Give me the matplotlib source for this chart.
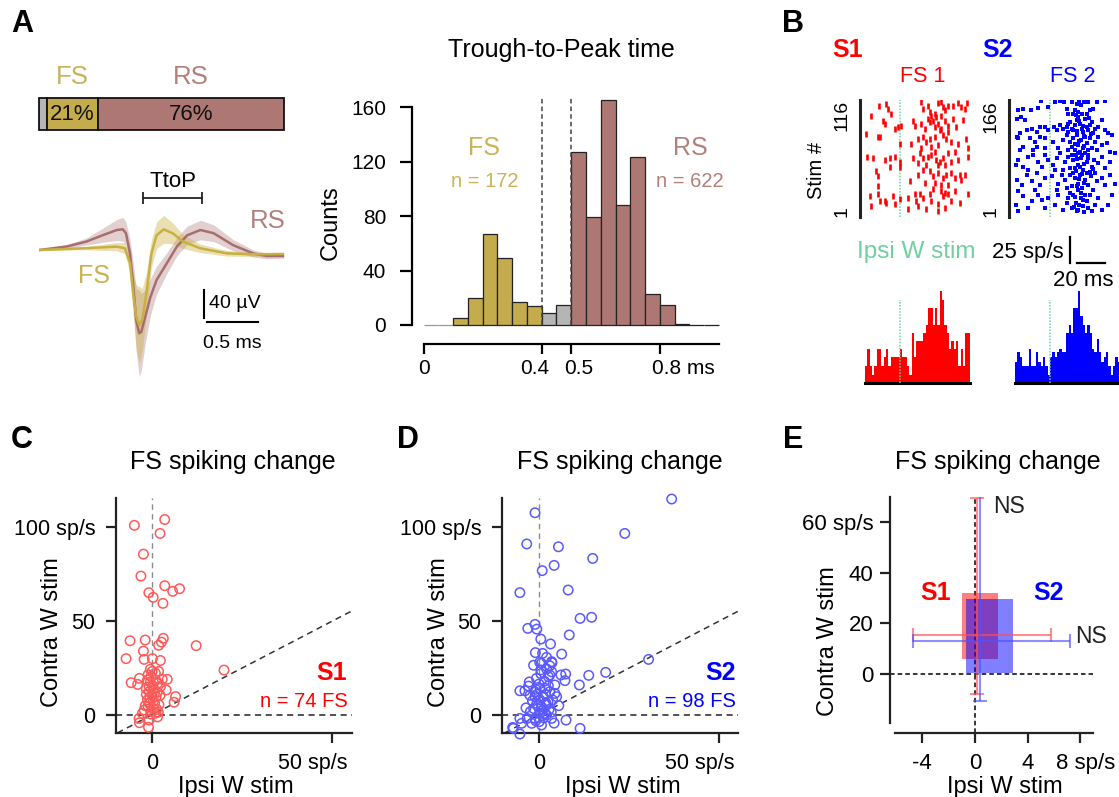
import numpy as np
import matplotlib
matplotlib.use("Agg")
import matplotlib.pyplot as plt
from matplotlib.transforms import ScaledTranslation

plt.rcParams['font.family'] = ['Liberation Sans', 'DejaVu Sans']

# ===================== DATA =====================
# A: population fractions (unclassified, FS, RS)
unit_pct = [3, 21, 76]
unit_labels = ['', '21%', '76%']

# A: mean waveforms (ms, uV) with spread
rs_t = [0, 0.27, 0.46, 0.62, 0.76, 0.82, 0.85, 0.89, 0.92, 0.95, 0.98, 1.00, 1.04, 1.09,
        1.15, 1.25, 1.35, 1.45, 1.58, 1.71, 1.90, 2.10, 2.23, 2.40]
rs_v = [0, 5, 12, 21, 28.6, 29.5, 24, -5, -48, -100, -119, -117, -95, -67,
        -43, -19, 5, 21, 28.6, 24, 7, -5, -8.6, -8.6]
rs_sd = [1, 3, 5, 10, 15, 17, 16, 20, 30, 45, 62, 55, 38, 26,
         20, 15, 13, 13, 14, 12, 8, 5, 4, 3]
fs_t = [0, 0.43, 0.76, 0.84, 0.89, 0.92, 0.95, 0.98, 1.01, 1.05, 1.10, 1.15, 1.22, 1.31,
        1.41, 1.58, 1.84, 2.10, 2.40]
fs_v = [0, 2.4, 4.8, 2.4, -19, -62, -95, -107, -100, -62, -5, 21, 29.5, 23.8,
        12, 2.4, -4.8, -6.2, -5.7]
fs_sd = [1, 2, 6, 8, 15, 30, 45, 55, 45, 30, 20, 19, 20, 15, 10, 6, 4, 3, 2]

# A: trough-to-peak histogram (bin left edges in ms, counts, class)
ttp_bin_left = [0.00, 0.05, 0.10, 0.15, 0.20, 0.25, 0.30, 0.35, 0.40, 0.45,
                0.50, 0.55, 0.60, 0.65, 0.70, 0.75, 0.80, 0.85, 0.90, 0.95]
ttp_counts = [0, 0, 5, 20, 67, 49, 17, 14, 9, 15,
              127, 79, 165, 88, 123, 23, 15, 1, 0, 0]
ttp_class = ['gray', 'gray', 'FS', 'FS', 'FS', 'FS', 'FS', 'FS', 'gray', 'gray',
             'RS', 'RS', 'RS', 'RS', 'RS', 'RS', 'RS', 'RS', 'RS', 'RS']
ttp_thresholds = [0.4, 0.5]
ttp_xticks = [0, 0.4, 0.5, 0.8]
ttp_xticklabels = ['0', '0.4', '0.5', '0.8 ms']
ttp_yticks = [0, 40, 80, 120, 160]

# B: rasters (time ms, trial #)
s1_spikes = [
    (-15.2, 111), (-9.8, 113), (-8.6, 108), (-6.2, 103), (-21, 101), (15.2, 115), (16.4, 108), (20, 111),
    (21.2, 105), (27.1, 114), (29, 115), (30.7, 110), (32.4, 107), (34.3, 111), (37.8, 111), (41.4, 114),
    (43.3, 110), (46.2, 108), (48.1, 114), (24.8, 103), (22.4, 101), (26, 100), (29.5, 101),
    (-12.1, 96), (-11, 93), (-3.8, 88), (-1.4, 90), (1, 91), (9.3, 96), (10.5, 91), (15.2, 93), (20, 98),
    (21.2, 95), (23.6, 96), (27.1, 93), (31.9, 96), (34.3, 91), (37.8, 98), (40.2, 90), (45, 97),
    (29.5, 88), (24.8, 90), (17.6, 88),
    (-24, 83), (-15.7, 80), (-14.5, 80), (-0.2, 73), (8.1, 73), (12.9, 78), (16.4, 80), (18.8, 75),
    (21.2, 78), (24.8, 80), (27.1, 72), (30.7, 82), (33.1, 78), (36.7, 75), (41.4, 73), (47.4, 78),
    (48.6, 69), (15.2, 69), (22.4, 70), (28.3, 87), (34.3, 85),
    (-23.3, 60), (-19.3, 59), (-11, 57), (-7.4, 59), (-3.8, 60), (-0.2, 55), (9.3, 59), (14, 64),
    (16.4, 59), (20, 60), (22.4, 62), (26, 57), (28.3, 55), (30.7, 59), (34.3, 64), (39, 65),
    (41.4, 57), (48.6, 60), (24.8, 65), (27.1, 52), (18.8, 52), (12.9, 54), (31.9, 52), (36.7, 55),
    (-16.9, 46), (-15.7, 41), (-7.4, 50), (-0.2, 50), (6.9, 36), (12.9, 42), (16.4, 47), (21.2, 46),
    (23.6, 41), (27.1, 44), (30.7, 39), (33.1, 42), (36.7, 44), (39, 39), (42.6, 42), (46.2, 42),
    (43.8, 37), (24.8, 34), (17.6, 34), (34.3, 32), (29, 32), (-15.7, 31),
    (-21.7, 21), (-20.5, 11), (-15.7, 23), (-14.5, 16), (-11, 16), (-5, 21), (-3.8, 13), (-0.2, 18),
    (5.7, 19), (5.7, 8), (11.7, 16), (14, 23), (16.4, 19), (18.8, 8), (21.2, 23), (23.6, 28),
    (27.1, 13), (29.5, 26), (30.7, 21), (32.4, 24), (34.3, 23), (36.7, 16), (39, 26), (42.6, 14),
    (48.6, 23), (27.1, 6), (22.4, 16), (12.9, 11), (10.5, 23), (31.9, 9), (-9.8, 14),
]
s2_spikes = [
    (-22.6, 152), (-19, 154), (-13.5, 153), (-8.3, 155), (-6.4, 165), (-1.6, 157), (3.6, 164), (7.2, 165),
    (10.3, 163), (11.9, 154), (15.5, 164), (17.9, 152), (19.1, 161), (20.8, 165), (22.2, 159), (24.6, 164),
    (26.9, 163), (28.6, 152), (31, 154), (33.4, 164), (39.3, 165), (26.2, 147), (16.7, 147), (13.1, 147),
    (20.3, 150), (22.7, 147), (-23.8, 140), (-17.8, 138), (-20.7, 142),
    (-13.1, 126), (-9.5, 121), (-7.1, 128), (-3.5, 128), (3.1, 128), (4.8, 124), (11.9, 128), (14.3, 135),
    (15.5, 126), (17.9, 131), (19.1, 138), (21.5, 133), (22.7, 126), (25, 140), (26.2, 128), (28.6, 131),
    (29.8, 135), (32.2, 126), (34.6, 128), (36.9, 138), (39.3, 124), (41.7, 119), (44.1, 117), (13.1, 121),
    (16.7, 124), (9.6, 126), (7.2, 131), (-1.1, 124), (-16.6, 124), (-21.4, 119), (-23.8, 114), (20.3, 142),
    (23.9, 121), (27.4, 124), (31, 119),
    (-22.6, 112), (-19, 100), (-14.2, 112), (-10.7, 107), (-7.1, 114), (-3.5, 112), (2.4, 107), (6, 98),
    (9.6, 110), (11.9, 117), (14.3, 107), (16.7, 112), (19.1, 117), (20.3, 102), (22.2, 110), (23.9, 98),
    (26.2, 105), (28.6, 112), (30.3, 98), (32.2, 107), (34.6, 114), (36.9, 102), (40.5, 105), (42.9, 93),
    (15.5, 100), (17.9, 95), (25, 114), (27.4, 95), (33.4, 95), (13.1, 95), (-3.5, 98), (-11.9, 95),
    (-21.4, 95), (-9.5, 100),
    (-22.6, 81), (-19, 72), (-15.4, 86), (-11.9, 88), (-8.3, 79), (-5.9, 72), (-1.1, 81), (2.4, 74),
    (4.8, 84), (7.2, 91), (10.8, 79), (13.1, 86), (14.3, 70), (16.7, 81), (18.4, 88), (20.3, 74),
    (22.2, 84), (23.9, 67), (26.2, 79), (27.4, 88), (29.8, 72), (31.7, 81), (34.6, 77), (36.9, 86),
    (39.3, 70), (42.9, 79), (46.5, 91), (17.9, 70), (25, 91), (28.6, 65), (9.6, 67), (3.6, 67),
    (-15.4, 67), (-24.5, 74), (-3.5, 88), (21.5, 93),
    (-23.8, 53), (-20.2, 46), (-16.6, 60), (-13.1, 51), (-9.5, 63), (-7.1, 46), (-3.5, 56), (1.2, 58),
    (6, 48), (8.4, 60), (10.8, 53), (14.3, 60), (15.5, 44), (17.9, 56), (19.8, 48), (21.5, 60),
    (23.1, 41), (25, 53), (27.4, 46), (29.3, 58), (31, 39), (33.4, 51), (36.9, 56), (39.3, 46),
    (42.9, 60), (46.5, 48), (16.7, 63), (26.2, 63), (20.3, 39), (11.9, 41), (4.8, 39), (-10.7, 39),
    (-22.6, 37), (32.2, 63),
    (-24.5, 18), (-19, 30), (-13.1, 23), (-8.3, 32), (-3.5, 13), (-1.1, 27), (3.6, 18), (6, 32),
    (9.6, 11), (13.1, 27), (15.5, 13), (16.7, 32), (18.4, 20), (20.3, 11), (22.2, 27), (23.9, 16),
    (26.2, 23), (28.6, 32), (30.3, 9), (32.2, 18), (34.6, 27), (36.9, 11), (41.7, 18), (44.1, 32),
    (14.3, 34), (19.1, 9), (25, 32), (27.4, 13), (11.9, 20), (-5.9, 25), (-15.4, 13), (-22.6, 9),
    (18.5, 145), (21, 137), (23.5, 129), (19.5, 123), (24, 116), (21, 108), (18, 104), (24.5, 101),
    (20, 92), (22.8, 89), (19, 83), (24.3, 76), (21.3, 71), (18.8, 66), (23, 62), (20.8, 55),
    (24, 49), (19.3, 45), (22.5, 35), (18.1, 29), (23.6, 24), (20.9, 17), (17.2, 14), (24.6, 7),
    (27.9, 141), (12.6, 133), (29, 118), (16, 89), (27, 84), (30.8, 69),
]
s1_ntrials = 116
s2_ntrials = 166

# B: PSTHs (sp/s), 45 bins spanning -25..50 ms
psth_t_start, psth_t_end = -25, 50
s1_psth = [16, 33, 16, 8, 16, 33, 33, 16, 25, 33, 16, 25, 25, 25, 25, 33, 25, 25, 16, 8,
           48, 25, 40, 40, 40, 48, 56, 72, 72, 56, 72, 56, 88, 80, 56, 48, 33, 40, 33, 40,
           16, 33, 16, 48, 48]
s2_psth = [20, 30, 25, 16, 16, 16, 33, 16, 16, 30, 20, 16, 25, 16, 8, 25, 30, 25, 30, 33,
           30, 30, 48, 56, 48, 72, 72, 88, 64, 56, 48, 56, 48, 33, 30, 42, 30, 20, 25, 30,
           16, 8, 16, 25, 20]

# C: S1 FS units (ipsi change, contra change) sp/s
s1_fs = [
    (-4.8, 100.9), (3.6, 104), (2.3, 96.6), (-2.3, 85.6), (-3.0, 73.9), (3.6, 68.8), (5.8, 65.8),
    (7.7, 67.2), (-0.8, 65.1), (0.4, 62.6), (3.1, 59.4),
    (-6.0, 39.5), (-1.8, 39.9), (3.2, 40.8), (2.7, 38.8), (1.9, 37.1), (12.3, 36.9), (-2.3, 34.0),
    (-7.1, 30.0), (-2.1, 29.6), (0.2, 30.0), (2.4, 29.0), (20.0, 23.9),
    (0.1, 23.2), (-0.4, 24.3), (1.0, 22.3), (1.9, 23.2), (-5.7, 17.2), (-3.9, 16.3), (-3.4, 19.5),
    (-1.2, 18.6), (1.1, 18.6), (2.9, 19.0), (4.3, 19.0), (1.6, 16.8), (-0.7, 15.1), (2.4, 15.1),
    (4.0, 13.3), (0.6, 13.8), (-0.7, 12.4), (0.1, 10.6), (-0.5, 8.8), (1.2, 9.7), (6.6, 9.8),
    (6.2, 6.8), (-1.2, 8.0), (-0.7, 6.2), (0.8, 6.2), (-1.0, 4.4), (0.4, 3.5), (-2.1, 2.7),
    (-2.6, 0.9), (-0.3, 0.5), (1.4, 3.0), (0.9, 0.9), (1.6, -1.0), (-3.5, -1.8), (-0.7, -2.7),
    (-0.9, -6.5), (-3.4, -4.1), (0.3, 15.5), (-0.2, 20.5), (1.5, 12.0), (-1.5, 11.0), (0.5, 7.5),
    (-1.8, 5.0), (2.0, 5.5), (-0.2, 2.0), (0.8, 11.5), (-1.0, 21.5), (2.3, 10.5), (-0.4, 17.5),
    (1.8, 1.5), (-1.5, 14.0),
]
# D: S2 FS units
s2_fs = [
    (36.8, 114.9), (-1.1, 107.6), (23.8, 96.6), (-3.4, 91), (5.4, 89.5), (14.9, 83.3), (4.2, 79.6),
    (0.9, 76.8), (8.1, 66.5), (-5.3, 65.1), (11.4, 51.4), (14.6, 52), (-1.1, 48.2), (-3.1, 46.1),
    (-0.6, 45.7), (0.5, 40.4), (8.4, 42.6), (3.2, 37.8), (6.3, 32.4), (-1.0, 33.2), (1.0, 32.8),
    (2.1, 30.7), (30.4, 29.6), (3.6, 27.8), (0.2, 28.0), (18.5, 22.7), (13.8, 21.1), (6.1, 21.3),
    (7.4, 21.8), (3.0, 21.3), (11.2, 16), (7.2, 18.3), (4.4, 16), (-2.7, 17.6), (-5.3, 12.9),
    (-3.9, 12.9), (-0.9, 13.7), (4.9, 9.8), (7.5, -2.7), (11.4, -7.1), (-7.1, -7.1), (-5.3, -10.1),
    (3.5, 28.4), (0.7, 27.5), (3.0, 26.2), (2.1, 24.5), (3.5, 23.0), (2.6, 20.4), (0.5, 24.0),
    (-2.9, 15.4), (-1.1, 12.4), (0.3, 14.2), (1.7, 14.2), (3.0, 12.4), (4.4, 11.5), (-1.1, 9.8),
    (0.3, 8.0), (1.2, 9.8), (-0.6, 6.2), (0.7, 4.4), (2.1, 5.3), (-1.5, 3.5), (-2.4, 1.8),
    (0.3, 0.9), (1.6, 0.9), (3.4, 1.5), (3.5, -1.8), (-1.1, -1.8), (-3.3, -1.8), (-5.3, -1.8),
    (-4.8, -4.4), (-7.3, -6.6), (0.1, -3.5), (2.1, 0.0), (0.7, -5.3), (-2.0, -4.4), (1.0, 2.5),
    (2.5, 7.0), (-0.5, 11.0), (1.5, 18.0), (-1.8, 7.5), (0.0, 16.5), (2.8, 3.0), (-0.9, -3.0),
    (1.3, -1.5), (-2.5, 10.5), (3.8, 8.0), (0.5, 22.0), (-1.5, 26.5), (1.8, 11.0), (-0.3, 5.0),
    (0.9, -0.3), (2.6, 15.5), (-0.7, 19.5), (4.2, -4.3), (1.9, 6.5), (-3.6, 3.8), (5.5, 5.0),
]
scatter_yticks = [0, 50, 100]
scatter_yticklabels = ['0', '50', '100 sp/s']
scatter_xticks = [0, 50]
scatter_xticklabels = ['0', '50 sp/s']

# E: summary (box extents, error bar centre and extents), S1 then S2
e_names = ['S1', 'S2']
e_box_x0 = [-1.0, -0.7]
e_box_x1 = [1.78, 2.85]
e_box_y0 = [5.8, 0.3]
e_box_y1 = [32.0, 29.7]
e_cx = [0.13, 0.38]
e_cy = [15.6, 13.2]
e_xlo = [-4.7, -4.7]
e_xhi = [5.77, 7.24]
e_ylo = [-7.9, -10.7]
e_yhi = [69.5, 70.5]
e_yticks = [0, 20, 40, 60]
e_yticklabels = ['0', '20', '40', '60 sp/s']
e_xticks = [-4, 0, 4, 8]
e_xticklabels = ['-4', '0', '4', '8 sp/s']

# ===================== STYLE =====================
FS_C = '#c4ab4b'
RS_C = '#ad7773'
GR_C = '#b5b5b5'
FS_TXT = '#c9b258'
RS_TXT = '#b2807b'
FS_LINE = '#c8b040'
RS_LINE = '#a86e6e'
RED = '#ff0000'
BLUE = '#0000ff'
GREEN = '#6fd0a0'

W, H = 1119, 797
fig = plt.figure(figsize=(W / 100, H / 100), dpi=100)


def add_ax(l, t, r, b):
    return fig.add_axes([l / W, 1 - b / H, (r - l) / W, (b - t) / H])


def ptext(x, y, s, **kw):
    kw.setdefault('ha', 'center')
    kw.setdefault('va', 'baseline')
    return fig.text(x / W, 1 - y / H, s, **kw)


def shift_label(lab, dx_px):
    lab.set_transform(lab.get_transform() + ScaledTranslation(dx_px / 100, 0, fig.dpi_scale_trans))


# ---------- Panel A: proportion bar ----------
axb = add_ax(39.3, 98.3, 284, 130)
lefts = np.concatenate([[0], np.cumsum(unit_pct)[:-1]])
axb.barh(0, unit_pct, left=lefts, height=1, color=[GR_C, FS_C, RS_C],
         edgecolor='#111', linewidth=1.3, clip_on=False)
axb.set_xlim(0, 100)
axb.set_ylim(-0.5, 0.5)
axb.axis('off')
for lf, p, lab in zip(lefts, unit_pct, unit_labels):
    if lab:
        axb.text(lf + p / 2, -0.02, lab, ha='center', va='center', fontsize=16, color='#111')
axb.text(lefts[1] + unit_pct[1] / 2, 0.95, 'FS', ha='center', va='baseline', fontsize=18.5, color=FS_TXT)
axb.text(lefts[2] + unit_pct[2] / 2, 0.95, 'RS', ha='center', va='baseline', fontsize=18.5, color=RS_TXT)

# ---------- Panel A: waveforms ----------
axw = add_ax(39.3, 170, 284, 390)
axw.set_xlim(0, 2.4)
axw.set_ylim(-200, 114.3)
axw.axis('off')
for t, v, sd, c, a in [(rs_t, rs_v, rs_sd, RS_LINE, 0.33), (fs_t, fs_v, fs_sd, FS_LINE, 0.40)]:
    t, v, sd = np.array(t), np.array(v), np.array(sd)
    axw.fill_between(t, v - sd, v + sd, color=c, alpha=a, lw=0)
axw.plot(rs_t, rs_v, color=RS_LINE, lw=1.8)
axw.plot(fs_t, fs_v, color=FS_LINE, lw=1.8)
# scale bars
SB_UV, SB_MS = 40, 0.5
sb_x, sb_y = 1.615, -57
axw.plot([sb_x, sb_x], [sb_y, sb_y - SB_UV], color='k', lw=1.5)
axw.plot([1.641, 1.641 + SB_MS], [-103.3, -103.3], color='k', lw=1.5)
axw.text(1.66, -83, '40 µV', fontsize=14, ha='left', va='baseline')
axw.text(1.89, -140, '0.5 ms', fontsize=14, ha='center', va='baseline')
# TtoP marker
axw.plot([1.02, 1.598], [74.8, 74.8], color='#222', lw=1.3, marker='|', markersize=9, mew=1.3)
axw.text(1.315, 90, 'TtoP', fontsize=16, ha='center', va='baseline')
axw.text(0.54, -47.5, 'FS', fontsize=18, color=FS_TXT, ha='center', va='baseline')
axw.text(2.24, 31, 'RS', fontsize=18.5, color=RS_TXT, ha='center', va='baseline')

# ---------- Panel A: histogram ----------
axh = add_ax(411.7, 93.4, 719, 325)
axh.set_xlim(-0.04, 1.0)
axh.set_ylim(0, 170)
cmap = {'FS': FS_C, 'RS': RS_C, 'gray': GR_C}
fills = [cmap[c] for c in ttp_class]
edges = []
for c, n in zip(ttp_class, ttp_counts):
    if n == 0:
        edges.append('#9a9a9a' if c == 'gray' else '#222')
    else:
        edges.append('#222')
axh.bar(ttp_bin_left, ttp_counts, width=0.05, align='edge', color=fills,
        edgecolor=edges, linewidth=0.9, clip_on=False, zorder=2)
axh.vlines(ttp_thresholds, 0, 167, colors='#444', linestyles=(0, (3, 2)), lw=1.1, zorder=3)
for s in ['top', 'right']:
    axh.spines[s].set_visible(False)
axh.spines['left'].set_bounds(0, 160)
axh.spines['left'].set_linewidth(1.6)
axh.spines['bottom'].set_position(('outward', 13.7))
axh.spines['bottom'].set_bounds(0, 1.0)
axh.spines['bottom'].set_linewidth(1.6)
axh.set_yticks(ttp_yticks)
axh.set_xticks(ttp_xticks)
axh.set_xticklabels(ttp_xticklabels)
axh.tick_params(axis='y', length=8.4, width=1.6, pad=10, labelsize=15)
axh.tick_params(axis='x', length=7, width=1.6, pad=4, labelsize=15)
xl = axh.get_xticklabels()
shift_label(xl[1], -7)
shift_label(xl[2], 7)
shift_label(xl[3], 23)
ptext(561, 56.7, 'Trough-to-Peak time', fontsize=18)
ptext(331, 222.5, 'Counts', fontsize=17, rotation=90, va='center')
ptext(484, 155, 'FS', fontsize=18, color=FS_TXT)
ptext(485, 186.7, 'n = 172', fontsize=14.5, color=FS_TXT)
ptext(690, 155, 'RS', fontsize=18, color=RS_TXT)
ptext(690, 186.7, 'n = 622', fontsize=14.5, color=RS_TXT)

# ---------- Panel B: rasters ----------
def raster(ax, spikes, ntr, color, marker, ms, mew):
    t, tr = zip(*spikes)
    ax.plot(t, tr, ls='none', marker=marker, color=color, markersize=ms, mew=mew, zorder=2)
    ax.axvline(0, color=GREEN, ls=(0, (1, 1)), lw=1.1, zorder=1)
    ax.set_ylim(0.5, ntr + 0.5)
    for s in ['top', 'right', 'bottom']:
        ax.spines[s].set_visible(False)
    ax.spines['left'].set_linewidth(2.2)
    ax.spines['left'].set_color('#222')
    ax.set_xticks([])
    ax.set_yticks([])
    ax.text(-0.085, 1.0, str(ntr), transform=ax.transAxes, rotation=90, ha='right', va='top', fontsize=14)
    ax.text(-0.085, 0.0, '1', transform=ax.transAxes, rotation=90, ha='right', va='bottom', fontsize=14)


ax_r1 = add_ax(860, 100, 975, 217)
ax_r1.set_xlim(-28.6, 53.6)
raster(ax_r1, s1_spikes, s1_ntrials, RED, '|', 4.6, 1.9)
ax_r2 = add_ax(1009, 100, 1119, 217)
ax_r2.set_xlim(-29.3, 49.3)
raster(ax_r2, s2_spikes, s2_ntrials, BLUE, 's', 2.4, 0)


def psth(ax, vals, color, xmax):
    edges_t = np.linspace(psth_t_start, psth_t_end, len(vals) + 1)
    ax.stairs(vals, edges_t, fill=True, color=color, lw=0)
    ax.vlines(0, 0, 80, colors=GREEN, linestyles=(0, (1, 1)), lw=1.1, zorder=3)
    ax.set_xlim(psth_t_start, xmax)
    ax.set_ylim(0, 99)
    for s in ['top', 'right', 'left']:
        ax.spines[s].set_visible(False)
    ax.spines['bottom'].set_linewidth(2.2)
    ax.spines['bottom'].set_bounds(psth_t_start, psth_t_end)
    ax.set_xticks([])
    ax.set_yticks([])


ax_p1 = add_ax(865, 280, 970, 383)
psth(ax_p1, s1_psth, RED, 50)
ax_p2 = add_ax(1015, 280, 1119, 383)
psth(ax_p2, s2_psth, BLUE, 49.3)
# scale bar (25 sp/s, 20 ms)
ax_p2.plot([14.3, 14.3], [115, 140], color='k', lw=1.6, clip_on=False)
ax_p2.plot([19.3, 39.3], [115, 115], color='k', lw=1.6, clip_on=False)

ptext(793, 31.7, 'B', fontsize=22, fontweight='bold')
ptext(848, 56.7, 'S1', fontsize=18, fontweight='bold', color=RED)
ptext(998, 56.7, 'S2', fontsize=18, fontweight='bold', color=BLUE)
ptext(922.5, 81.7, 'FS 1', fontsize=15.5, color=RED)
ptext(1073, 81.7, 'FS 2', fontsize=15.5, color=BLUE)
ptext(816, 170.7, 'Stim #', fontsize=14.5, rotation=90, va='center')
ptext(916.7, 257.7, 'Ipsi W stim', fontsize=17.5, color=GREEN)
ptext(1063.3, 257.7, '25 sp/s', fontsize=16, ha='right')
ptext(1083, 286, '20 ms', fontsize=16)

# ---------- Panels C, D: scatter ----------
def scatter_panel(ax, pts, color, xlim, shift_px):
    ax.set_xlim(*xlim)
    ax.set_ylim(-9.5, 115.5)
    ax.axvline(0, color='#8c8c8c', lw=1, ls=(0, (4, 3)), zorder=1)
    ax.axhline(0, color='#222', lw=1.1, ls=(0, (4, 3)), zorder=1)
    ax.axline((0, 0), slope=1, color='#333', lw=1.1, ls=(0, (4, 3)), zorder=1)
    xs, ys = zip(*pts)
    ax.scatter(xs, ys, s=46, facecolors='none', edgecolors=color, linewidths=1.1, zorder=3,
               clip_on=False)
    for s in ['top', 'right']:
        ax.spines[s].set_visible(False)
    for s in ['left', 'bottom']:
        ax.spines[s].set_linewidth(1.6)
        ax.spines[s].set_color('#222')
    ax.set_yticks(scatter_yticks)
    ax.set_yticklabels(scatter_yticklabels)
    ax.set_xticks(scatter_xticks)
    ax.set_xticklabels(scatter_xticklabels)
    ax.tick_params(axis='both', length=7.2, width=1.6, labelsize=15.5, color='#222')
    ax.tick_params(axis='y', pad=7.5)
    ax.tick_params(axis='x', pad=7)
    shift_label(ax.get_xticklabels()[1], shift_px)


axc = add_ax(115.6, 497.9, 352.3, 732.9)
scatter_panel(axc, s1_fs, '#ff5a5a', (-10, 55.5), -20)
axd = add_ax(501.7, 497.9, 738, 732.9)
scatter_panel(axd, s2_fs, '#5a5aff', (-10.34, 55.2), -20)

ptext(22, 448.3, 'C', fontsize=22, fontweight='bold')
ptext(233, 469.3, 'FS spiking change', fontsize=18)
ptext(51.7, 632.5, 'Contra W stim', fontsize=17, rotation=90, va='center')
ptext(235.8, 792.5, 'Ipsi W stim', fontsize=17)
ptext(347, 680, 'S1', fontsize=18, fontweight='bold', color=RED, ha='right')
ptext(348, 707.3, 'n = 74 FS', fontsize=14.5, color=RED, ha='right')

ptext(408, 448.3, 'D', fontsize=22, fontweight='bold')
ptext(620, 469.3, 'FS spiking change', fontsize=18)
ptext(439, 632.5, 'Contra W stim', fontsize=17, rotation=90, va='center')
ptext(623, 792.5, 'Ipsi W stim', fontsize=17)
ptext(736, 680, 'S2', fontsize=18, fontweight='bold', color=BLUE, ha='right')
ptext(736, 707.3, 'n = 98 FS', fontsize=14.5, color=BLUE, ha='right')

# ---------- Panel E ----------
axe = add_ax(890, 496.7, 1093, 733.3)
axe.set_xlim(-6.45, 8.96)
axe.set_ylim(-23.4, 70.1)
axe.axvline(0, color='k', lw=1.1, ls=(0, (3, 2)), zorder=1)
axe.axhline(0, color='k', lw=1.1, ls=(0, (3, 2)), zorder=1)
e_cols = [RED, BLUE]
e_ecols = ['#ff5050', '#5050ff']
for i in range(len(e_names)):
    axe.bar(e_box_x0[i], e_box_y1[i] - e_box_y0[i], width=e_box_x1[i] - e_box_x0[i],
            bottom=e_box_y0[i], align='edge', color=e_cols[i], alpha=0.5, lw=0, zorder=2)
for i in range(len(e_names)):
    axe.errorbar(e_cx[i], e_cy[i],
                 xerr=[[e_cx[i] - e_xlo[i]], [e_xhi[i] - e_cx[i]]],
                 yerr=[[e_cy[i] - e_ylo[i]], [e_yhi[i] - e_cy[i]]],
                 color=e_ecols[i], alpha=0.65, lw=1.5, capsize=4.8, capthick=1.5, zorder=3)
for s in ['top', 'right']:
    axe.spines[s].set_visible(False)
for s in ['left', 'bottom']:
    axe.spines[s].set_linewidth(1.6)
    axe.spines[s].set_color('#222')
axe.spines['left'].set_bounds(-19.5, 70)
axe.spines['bottom'].set_bounds(-6.07, 8.97)
axe.set_yticks(e_yticks)
axe.set_yticklabels(e_yticklabels)
axe.set_xticks(e_xticks)
axe.set_xticklabels(e_xticklabels)
axe.tick_params(axis='both', length=7.5, width=1.6, labelsize=16, color='#222')
axe.tick_params(axis='y', pad=4.5)
axe.tick_params(axis='x', pad=7)
shift_label(axe.get_xticklabels()[3], 5)

ptext(793, 448.3, 'E', fontsize=22, fontweight='bold')
ptext(998, 469.3, 'FS spiking change', fontsize=18)
ptext(828, 641.5, 'Contra W stim', fontsize=17, rotation=90, va='center')
ptext(1005, 792.5, 'Ipsi W stim', fontsize=17)
ptext(936, 600, 'S1', fontsize=18, fontweight='bold', color=RED)
ptext(1048.7, 600, 'S2', fontsize=18, fontweight='bold', color=BLUE)
ptext(993.3, 513.3, 'NS', fontsize=16.5, ha='left', color='#222')
ptext(1075, 643.3, 'NS', fontsize=16.5, ha='left', color='#222')

ptext(22.5, 31.7, 'A', fontsize=22, fontweight='bold')

fig.savefig('out.png', dpi=100)
